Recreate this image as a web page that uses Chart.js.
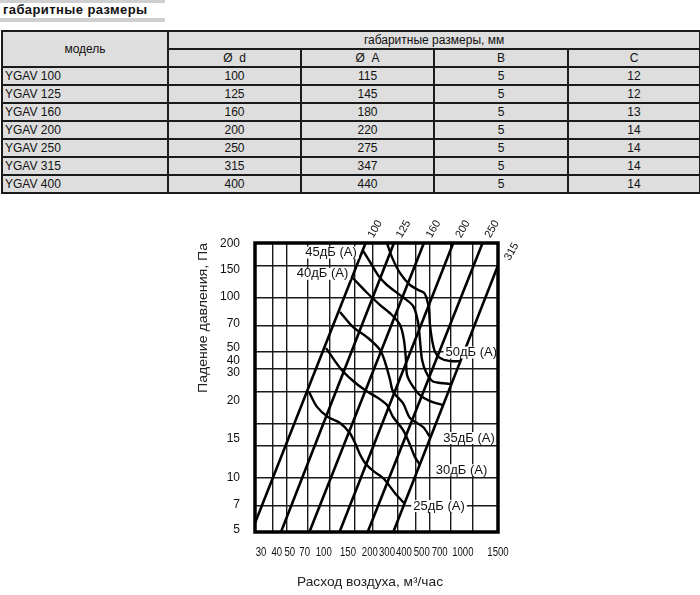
<!DOCTYPE html>
<html><head><meta charset="utf-8">
<script src="https://cdn.jsdelivr.net/npm/chart.js@4.4.1/dist/chart.umd.min.js"></script>
<style>
html,body{margin:0;padding:0;background:#fff;width:700px;height:595px;overflow:hidden;font-family:'Liberation Sans',Arial,sans-serif;}
.bar{position:absolute;left:0;width:165px;background:#cfcfcf;}
#ttl{position:absolute;left:3px;top:3px;font-weight:bold;font-size:13px;line-height:14px;letter-spacing:0.4px;color:#111;}
table{position:absolute;left:1px;top:30px;width:698px;border-collapse:collapse;table-layout:fixed;font-size:12px;color:#111;}
td{border:2px solid #1a1a1a;background:#dedede;height:16px;padding:0;line-height:16px;text-align:center;white-space:nowrap;}
td.m{text-align:left;padding-left:2px;}
#c{position:absolute;left:0;top:195px;}
</style></head>
<body>
<div class="bar" style="top:0;height:3px"></div>
<div id="ttl">габаритные размеры</div>
<div class="bar" style="top:18px;height:4px"></div>
<table id="tbl">
<colgroup><col style="width:166px"><col style="width:133px"><col style="width:133px"><col style="width:134px"><col style="width:132px"></colgroup>
<tbody id="tb"></tbody>
</table>
<canvas id="c" width="700" height="400"></canvas>
<script>
// ---- table data ----
const tableModels = ['YGAV 100','YGAV 125','YGAV 160','YGAV 200','YGAV 250','YGAV 315','YGAV 400'];
const dimD = [100,125,160,200,250,315,400];
const dimA = [115,145,180,220,275,347,440];
const dimB = [5,5,5,5,5,5,5];
const dimC = [12,12,13,14,14,14,14];
const colHeads = ['Ø  d','Ø  A','B','C'];

// ---- chart axes ----
const xTicks = [30,40,50,70,100,150,200,300,400,500,700,1000,1500];
const yTicks = [5,7,10,15,20,30,40,50,70,100,150,200];
const xTitle = 'Расход воздуха, м³/час';
const yTitle = 'Падение давления, Па';

// ---- model (diameter) lines: flow m3/h, pressure Pa ----
const models = ['100','125','160','200','250','315'];
const modelFlowLow  = [30, 45.6, 72, 117, 184, 278];
const modelPresLow  = [5.6, 5, 5, 5, 5, 5];
const modelFlowHigh = [178, 281, 455, 730, 1170, 1500];
const modelPresHigh = [200, 200, 200, 200, 200, 150];

// ---- noise curves ----
const flow25 = [71.6, 81.4, 97.2, 118, 138, 150, 163, 176, 201, 236, 286, 330];
const pres25 = [29.9, 24.7, 21.7, 20.1, 17.7, 15.6, 13.4, 12.1, 10.9, 9.96, 8.2, 7.24];
const flow30 = [94.1, 118, 143, 176, 217, 251, 277, 325, 364, 394, 427];
const pres30 = [52.3, 40.6, 34.8, 30.6, 27.7, 25.3, 21.7, 18.4, 15.2, 13.0, 11.8];
const flow35 = [118, 145, 182, 225, 247, 264, 277, 325, 364, 449, 502];
const pres35 = [82.9, 68.5, 60.2, 51.0, 42.1, 34.8, 29.9, 25.9, 21.4, 19.1, 16.8];
const flow40 = [145, 182, 225, 272, 310, 330, 341, 347, 376, 427, 502, 619];
const pres40 = [128, 106, 90.6, 79.8, 70.2, 58.0, 44.9, 37.1, 32.6, 28.7, 26.6, 25.3];
const flow45 = [171, 191, 217, 251, 325, 382, 414, 427, 442, 471, 519, 590, 716];
const pres45 = [181, 157, 133, 117, 100, 89.5, 73.0, 58.0, 44.9, 38.5, 34.4, 33.5, 33.1];
const flow50 = [251, 272, 310, 364, 414, 456, 479, 494, 502, 519, 545, 590, 693, 814];
const pres50 = [200, 167, 136, 117, 110, 106, 96.6, 85, 70.2, 58.0, 49.7, 46.1, 44.3, 44.3];

const noiseLabels    = ['25дБ (А)','30дБ (А)','35дБ (А)','40дБ (А)','45дБ (А)','50дБ (А)'];
const noiseLabelFlow = [581, 834, 941, 89, 102, 975];
const noiseLabelPres = [6.97, 11.0, 16.6, 135, 177, 49.4];

// ---- layout tweaks: tick label offsets (px) as printed in the source figure ----
const xLabelShift = [6, 4, 3, -3, -6, -7, -3, -11, -12, -8, -11, -10, 0];
const yLabelShift = [-2, -1, 0, -7, -23, -19, -8, -4, -2, -1, 4, 1];

// ---- build table ----
(function(){
  const tb = document.getElementById('tb');
  let h = '<tr><td rowspan="2">модель</td><td colspan="4">габаритные размеры, мм</td></tr><tr>';
  colHeads.forEach(c => h += '<td>' + c.replace(/ /g,'&nbsp;') + '</td>');
  h += '</tr>';
  tableModels.forEach((m,i) => {
    h += '<tr><td class="m">'+m+'</td><td>'+dimD[i]+'</td><td>'+dimA[i]+'</td><td>'+dimB[i]+'</td><td>'+dimC[i]+'</td></tr>';
  });
  tb.innerHTML = h;
})();

// ---- datasets ----
const pts = (fx, fy) => fx.map((v,i) => ({x:v, y:fy[i]}));
const datasets = [];
models.forEach((m,i) => datasets.push({
  label: m, data: [{x:modelFlowLow[i], y:modelPresLow[i]}, {x:modelFlowHigh[i], y:modelPresHigh[i]}],
  borderColor:'#000', borderWidth:2.6, pointRadius:0, tension:0
}));
[[flow25,pres25],[flow30,pres30],[flow35,pres35],[flow40,pres40],[flow45,pres45],[flow50,pres50]].forEach((c,i) => datasets.push({
  label: noiseLabels[i], data: pts(c[0], c[1]),
  borderColor:'#000', borderWidth:2.4, pointRadius:0, tension:0.3
}));

const FONT = "'Liberation Sans', Arial, sans-serif";
function squeezeText(ctx, t, x, y, sx, rot){
  ctx.save(); ctx.translate(x, y); if (rot) ctx.rotate(rot); ctx.scale(sx, 1); ctx.fillText(t, 0, 0); ctx.restore();
}
const overlay = {
  id:'overlay',
  afterDatasetsDraw(chart){
    const {ctx, chartArea:a, scales:{x, y}} = chart;
    ctx.save();
    // curve labels with white boxes
    ctx.font = '13px ' + FONT;
    ctx.textBaseline = 'middle'; ctx.textAlign = 'center';
    noiseLabels.forEach((t,i) => {
      const px = x.getPixelForValue(noiseLabelFlow[i]), py = y.getPixelForValue(noiseLabelPres[i]);
      const w = ctx.measureText(t).width;
      ctx.fillStyle = '#fff'; ctx.fillRect(px - w/2 - 2, py - 6, w + 4, 12);
      ctx.fillStyle = '#111'; ctx.fillText(t, px, py);
    });
    // frame
    ctx.strokeStyle = '#000'; ctx.lineWidth = 3.5;
    ctx.strokeRect(a.left, a.top, a.right - a.left, a.bottom - a.top);
    // model labels
    ctx.font = '11px ' + FONT; ctx.textAlign = 'left'; ctx.fillStyle = '#111';
    models.forEach((m,i) => {
      const px = x.getPixelForValue(modelFlowHigh[i]), py = y.getPixelForValue(modelPresHigh[i]);
      const dx = modelPresHigh[i] < 200 ? 9 : 5;
      squeezeText(ctx, m, px + dx, py - 6, 1, -Math.PI/3);
    });
    // tick labels
    ctx.font = '12px ' + FONT; ctx.fillStyle = '#111';
    ctx.textAlign = 'center'; ctx.textBaseline = 'middle';
    xTicks.forEach((v,i) => squeezeText(ctx, String(v), x.getPixelForValue(v) + xLabelShift[i], a.bottom + 20.5, 0.8));
    ctx.textAlign = 'right';
    yTicks.forEach((v,i) => squeezeText(ctx, String(v), a.left - 15, y.getPixelForValue(v) + yLabelShift[i], 1));
    // axis titles
    ctx.font = '13px ' + FONT; ctx.fillStyle = '#222'; ctx.textAlign = 'center';
    const wx = ctx.measureText(xTitle).width, wy = ctx.measureText(yTitle).width;
    squeezeText(ctx, xTitle, a.left + 115, a.bottom + 50, 146 / wx);
    squeezeText(ctx, yTitle, a.left - 52, a.top + 75, 150 / wy, -Math.PI/2);
    ctx.restore();
  }
};

Chart.defaults.font.family = FONT;
new Chart(document.getElementById('c'), {
  type:'line',
  data:{datasets},
  options:{
    responsive:false, animation:false,
    layout:{padding:{left:195, right:202, top:48, bottom:5}},
    plugins:{legend:{display:false}, tooltip:{enabled:false}},
    scales:{
      x:{
        type:'logarithmic', min:30, max:1500,
        afterBuildTicks: s => { s.ticks = xTicks.map(v => ({value:v})); },
        afterFit: s => { s.height = 58; },
        ticks:{display:false, autoSkip:false},
        grid:{color:'#1a1a1a', lineWidth:1.4, drawTicks:false},
        border:{display:false}
      },
      y:{
        type:'logarithmic', min:5, max:200,
        afterBuildTicks: s => { s.ticks = yTicks.map(v => ({value:v})); },
        afterFit: s => { s.width = 60; },
        ticks:{display:false, autoSkip:false},
        grid:{color:'#1a1a1a', lineWidth:1.4, drawTicks:false},
        border:{display:false}
      }
    }
  },
  plugins:[overlay]
});
</script>
</body></html>
